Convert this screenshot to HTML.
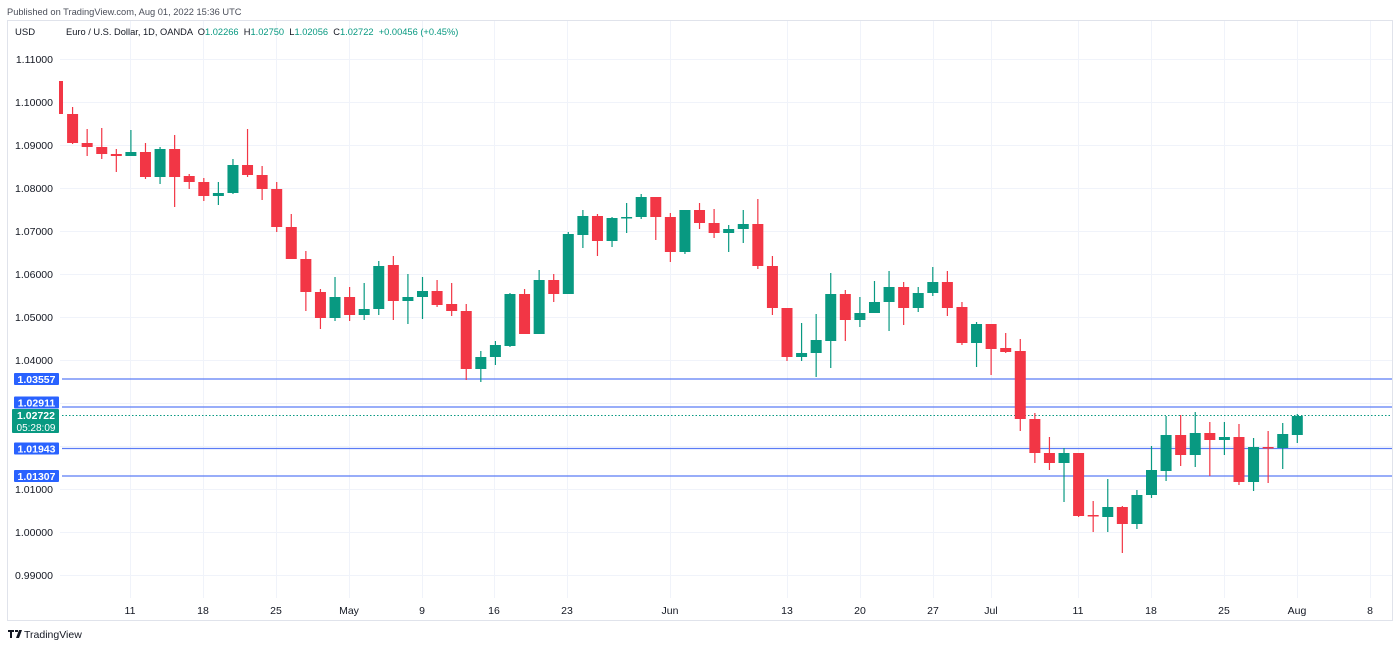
<!DOCTYPE html>
<html><head><meta charset="utf-8"><style>
html,body{margin:0;padding:0;background:#fff;width:1400px;height:648px;overflow:hidden;font-family:"Liberation Sans",sans-serif;}
svg text{font-family:"Liberation Sans",sans-serif;}
</style></head><body>
<svg id="c" width="1400" height="648" xmlns="http://www.w3.org/2000/svg">
<rect x="0" y="0" width="1400" height="648" fill="#fff"/>
<text x="7" y="15" font-size="9.3" fill="#4a4e59">Published on TradingView.com, Aug 01, 2022 15:36 UTC</text>
<rect x="7.5" y="20.5" width="1385" height="600" fill="none" stroke="#e0e3eb"/>
<g id="grid" stroke="#f0f3fa" stroke-width="1"></g>
<g id="hl"></g>
<g id="cd"></g>
<g id="lab" font-size="10.5" fill="#131722"></g>
<text x="15" y="35" font-size="9.5" fill="#131722">USD</text>
<text x="66" y="35" font-size="9.3" fill="#131722" xml:space="preserve">Euro / U.S. Dollar, 1D, OANDA  O<tspan fill="#089981">1.02266</tspan>  H<tspan fill="#089981">1.02750</tspan>  L<tspan fill="#089981">1.02056</tspan>  C<tspan fill="#089981">1.02722</tspan>  <tspan fill="#089981">+0.00456 (+0.45%)</tspan></text>
<g transform="translate(8,629)"><path d="M0 1h6v2h-2v6h-2v-6h-2z M7 1h3v2h-3z M11 1h3l-3 8h-3z" fill="#131722"/></g>
<text x="24" y="638" font-size="10.5" fill="#131722">TradingView</text>
</svg>
<script>
var NS="http://www.w3.org/2000/svg";
function el(p,t,a,txt){var e=document.createElementNS(NS,t);for(var k in a)e.setAttribute(k,a[k]);if(txt)e.textContent=txt;p.appendChild(e);return e;}
var g=document.getElementById('grid'),lab=document.getElementById('lab'),hl=document.getElementById('hl'),cd=document.getElementById('cd');
var ticks=[[59,"1.11000"],[102,"1.10000"],[145,"1.09000"],[188,"1.08000"],[231,"1.07000"],[274,"1.06000"],[317,"1.05000"],[360,"1.04000"],[403,null],[446,null],[489,"1.01000"],[532,"1.00000"],[575,"0.99000"]];
ticks.forEach(function(t){el(g,'line',{x1:60,x2:1392,y1:t[0]+.5,y2:t[0]+.5});if(t[1])el(lab,'text',{x:53,y:t[0]+4,'text-anchor':'end'},t[1]);});
var dates=[[130,"11"],[203,"18"],[276,"25"],[349,"May"],[422,"9"],[494,"16"],[567,"23"],[670,"Jun"],[787,"13"],[860,"20"],[933,"27"],[991,"Jul"],[1078,"11"],[1151,"18"],[1224,"25"],[1297,"Aug"],[1370,"8"]];
dates.forEach(function(d){el(g,'line',{x1:d[0]+.5,x2:d[0]+.5,y1:21,y2:598});el(lab,'text',{x:d[0],y:614,'text-anchor':'middle'},d[1]);});
[[379,379,"1.03557"],[407,402.5,"1.02911"],[448.5,448.5,"1.01943"],[476,476,"1.01307"]].forEach(function(h){
 el(hl,'line',{x1:62,x2:1392,y1:h[0],y2:h[0],stroke:'#5b7cf5','stroke-width':1.3});
 el(hl,'rect',{x:14,y:h[1]-6,width:45,height:12,fill:'#2962ff',rx:1});
 el(hl,'text',{x:36.5,y:h[1]+4,'text-anchor':'middle','font-size':'10.5',fill:'#fff','font-weight':'bold'},h[2]);
});
el(hl,'line',{x1:62,x2:1392,y1:415.5,y2:415.5,stroke:'#089981','stroke-width':1,'stroke-dasharray':'1.5 2'});
el(hl,'rect',{x:12,y:409,width:47,height:24,fill:'#089981',rx:1});
el(hl,'text',{x:36,y:419,'text-anchor':'middle','font-size':'10.5',fill:'#fff','font-weight':'bold'},"1.02722");
el(hl,'text',{x:36,y:431,'text-anchor':'middle','font-size':'10',fill:'#fff'},"05:28:09");
var C=[[81,114,81,114],[114,143,107,144],[143,147,129,156],[147,154,128,159],[154,156,149,172],
[156,152,130,156],[152,177,143,179],[177,149,147,184],[149,177,135,207],[176,182,174,189],
[182,196,178,201],[196,193,182,205],[193,165,159,194],[165,175,129,177],[175,189,166,200],
[189,227,182,232],[227,259,214,259],[259,292,251,311],[292,318,289,329],[318,297,277,321],
[297,315,287,321],[315,309,283,320],[309,266,261,315],[265,301,256,320],[301,297,274,324],
[297,291,277,319],[291,305,280,307],[304,311,283,316],[311,369,304,380],[369,357,351,382],
[357,345,341,365],[346,294,293,347],[294,334,289,334],[334,280,270,334],[280,294,274,302],
[294,234,232,294],[235,216,210,248],[216,241,214,256],[241,218,217,247],[218,217,203,233],
[217,197,194,219],[197,217,197,240],[217,252,213,262],[252,210,210,254],[210,223,203,229],
[223,233,209,238],[233,229,225,252],[229,224,210,243],[224,266,199,269],[266,308,256,315],
[308,357,308,361],[357,353,323,361],[353,340,314,377],[341,294,273,368],[294,320,290,341],
[320,313,297,327],[313,302,281,313],[302,287,271,331],[287,308,282,325],[308,293,287,312],
[293,282,267,296],[282,308,271,316],[307,343,302,345],[343,324,322,367],[324,349,324,375],
[348,352,333,353],[351,419,339,431],[419,453,413,463],[453,463,437,470],[463,453,448,502],
[453,516,453,517],[515,516,501,532],[517,507,479,532],[507,524,506,553],[524,495,490,529],
[495,470,446,498],[471,435,416,481],[435,455,415,466],[455,433,412,467],[433,440,422,476],
[440,437,422,455],[437,482,424,485],[482,447,438,491],[447,448,431,483],[448,434,423,469],[435,416,414,443]];
C.forEach(function(c,i){
 var x=58+i*14.58,up=c[1]<c[0],col=up?'#089981':'#f23645';
 var top=Math.min(c[0],c[1]),h=Math.max(1.5,Math.abs(c[1]-c[0]));
 var bl=x-5.5,bw=11;
 if(i==0){bl=59;bw=4;}
 if(i>0)el(cd,'line',{x1:x,x2:x,y1:c[2],y2:c[3],stroke:col,'stroke-width':1.2});
 el(cd,'rect',{x:bl,y:top,width:bw,height:h,fill:col});
});
</script>
</body></html>
